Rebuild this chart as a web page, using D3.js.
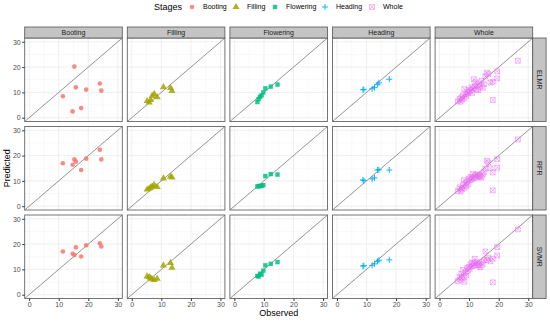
<!DOCTYPE html>
<html>
<head>
<meta charset="utf-8">
<script src="https://cdn.jsdelivr.net/npm/d3@7"></script>
<style>
  body { margin: 0; background: #fff; }
  svg { display: block; font-family: "Liberation Sans", Arial, sans-serif; }
</style>
</head>
<body>
<svg id="chart"></svg>
<script>
// Facet labels
const stages = ["Booting", "Filling", "Flowering", "Heading", "Whole"];
const models = ["ELMR", "RFR", "SVMR"];
const ticks = [0, 10, 20, 30];

// Observed values per stage
const bootingObs = [11.4, 14.7, 15.3, 15.8, 17.6, 19.3, 23.9, 24.4];
const fillingObs = [5.2, 5.9, 6.4, 6.9, 7.6, 8.6, 10.7, 13.1, 13.6];
const floweringObs = [7.8, 8.2, 8.7, 9.2, 9.8, 10.5, 12.3, 14.6];
const headingObs = [8.8, 9.1, 11.9, 12.7, 13.7, 14.2, 17.7];
const wholeObs = [6.2, 6.8, 7.1, 7.4, 7.6, 7.9, 8.2, 8.4, 8.8, 9.0, 9.3, 9.6, 9.9,
  10.2, 10.5, 10.8, 11.0, 11.3, 11.6, 11.9, 12.2, 12.5, 12.8, 13.1, 13.4, 13.8,
  14.2, 14.6, 15.0, 15.5, 16.0, 16.5, 17.2, 18.0, 18.0, 19.5, 19.5, 26.5];

// Predicted values, one array per stage and model
const bootingELMR = [8.5, 2.5, 20.2, 12.0, 3.8, 11.1, 13.5, 10.7];
const bootingRFR = [17.0, 16.4, 18.5, 17.6, 14.3, 18.8, 22.3, 18.5];
const bootingSVMR = [17.1, 16.2, 15.7, 18.7, 15.1, 19.5, 20.3, 19.1];

const fillingELMR = [6.6, 6.0, 7.0, 8.6, 9.4, 8.1, 12.1, 11.8, 10.6];
const fillingRFR = [6.6, 7.0, 7.3, 7.8, 8.4, 7.6, 11.0, 11.8, 11.4];
const fillingSVMR = [7.2, 7.0, 6.6, 6.1, 5.8, 6.3, 11.6, 12.6, 10.7];

const floweringELMR = [6.2, 7.4, 8.3, 8.8, 10.0, 11.6, 12.3, 13.1];
const floweringRFR = [7.8, 8.0, 7.9, 8.1, 8.3, 11.9, 12.7, 12.5];
const floweringSVMR = [7.4, 7.2, 8.3, 7.9, 9.5, 11.6, 12.2, 12.9];

const headingELMR = [11.0, 11.2, 11.4, 11.9, 13.2, 13.8, 15.2];
const headingRFR = [10.4, 10.1, 10.8, 11.2, 14.3, 14.4, 14.3];
const headingSVMR = [11.3, 11.5, 11.6, 12.2, 13.2, 13.6, 13.8];

const wholeELMR = [6.5, 7.4, 6.3, 8.0, 7.1, 8.8, 7.6, 11.3, 9.2, 8.4, 10.1, 9.6, 11.0,
  10.4, 10.8, 12.0, 9.8, 11.6, 15.2, 12.4, 14.0, 11.2, 12.8, 10.9, 13.5, 12.2,
  14.5, 11.8, 13.2, 16.3, 17.8, 17.2, 13.9, 14.2, 7.0, 18.3, 15.5, 22.5];
const wholeRFR = [6.0, 7.4, 5.8, 7.0, 6.6, 8.2, 10.3, 7.3, 9.0, 7.9, 9.6, 8.6, 10.9,
  10.2, 11.6, 10.6, 11.2, 12.8, 10.9, 11.8, 12.4, 11.4, 12.6, 11.9, 11.5, 12.0,
  11.3, 12.5, 13.4, 14.8, 18.0, 17.3, 15.0, 13.3, 6.3, 18.6, 15.2, 26.4];
const wholeSVMR = [5.4, 7.0, 5.9, 8.3, 6.6, 9.8, 7.3, 5.1, 8.7, 7.6, 10.5, 9.4, 11.0,
  10.2, 12.0, 11.2, 12.7, 11.4, 12.4, 14.2, 11.8, 12.9, 11.6, 12.3, 11.5, 10.9,
  12.8, 11.9, 13.6, 17.1, 13.8, 14.6, 13.2, 14.2, 4.9, 18.8, 15.5, 25.8];

const observed = { Booting: bootingObs, Filling: fillingObs, Flowering: floweringObs, Heading: headingObs, Whole: wholeObs };
const predicted = {
  Booting: { ELMR: bootingELMR, RFR: bootingRFR, SVMR: bootingSVMR },
  Filling: { ELMR: fillingELMR, RFR: fillingRFR, SVMR: fillingSVMR },
  Flowering: { ELMR: floweringELMR, RFR: floweringRFR, SVMR: floweringSVMR },
  Heading: { ELMR: headingELMR, RFR: headingRFR, SVMR: headingSVMR },
  Whole: { ELMR: wholeELMR, RFR: wholeRFR, SVMR: wholeSVMR }
};

const color = d3.scaleOrdinal().domain(stages)
  .range(["#F8766D", "#A3A500", "#00BF7D", "#00B0F6", "#E76BF3"]);

// Layout
const width = 550, height = 321;
const svg = d3.select("#chart").attr("width", width).attr("height", height);

const panelW = 97.6, panelH = 83.5;
const colStep = 102.6, rowStep = 88.5;
const left0 = 24.7, top0 = 38;
const stripH = 11;

const x = d3.scaleLinear().domain([-1.5, 31.5]).range([0, panelW]);
const y = d3.scaleLinear().domain([-1.5, 31.5]).range([panelH, 0]);
const minor = [5, 15, 25];

// Point shapes like ggplot 16, 17, 15, 3, 7
function drawPoint(sel, stage) {
  const c = color(stage);
  if (stage === "Booting") {
    sel.append("circle").attr("r", 2.3).attr("fill", c).attr("opacity", 0.85);
  } else if (stage === "Filling") {
    sel.append("path").attr("d", d3.symbol(d3.symbolTriangle, 22)()).attr("fill", c).attr("opacity", 0.85);
  } else if (stage === "Flowering") {
    sel.append("rect").attr("x", -2.2).attr("y", -2.2).attr("width", 4.4).attr("height", 4.4)
      .attr("fill", c).attr("opacity", 0.85);
  } else if (stage === "Heading") {
    sel.append("path").attr("d", "M-3,0H3M0,-3V3").attr("stroke", c).attr("stroke-width", 0.9).attr("fill", "none");
  } else {
    sel.append("path").attr("d", "M-2.4,-2.4H2.4V2.4H-2.4ZM-2.4,-2.4L2.4,2.4M2.4,-2.4L-2.4,2.4")
      .attr("stroke", c).attr("stroke-width", 0.6).attr("fill", "none").attr("opacity", 0.8);
  }
}

models.forEach((m, r) => {
  stages.forEach((s, c) => {
    const g = svg.append("g")
      .attr("transform", `translate(${left0 + c * colStep},${top0 + r * rowStep})`);

    g.append("rect").attr("width", panelW).attr("height", panelH).attr("fill", "#fff");

    // grid
    g.selectAll(".minx").data(minor).join("line")
      .attr("x1", d => x(d)).attr("x2", d => x(d)).attr("y1", 0).attr("y2", panelH)
      .attr("stroke", "#F2F2F2").attr("stroke-width", 0.5);
    g.selectAll(".miny").data(minor).join("line")
      .attr("y1", d => y(d)).attr("y2", d => y(d)).attr("x1", 0).attr("x2", panelW)
      .attr("stroke", "#F2F2F2").attr("stroke-width", 0.5);
    g.append("g").selectAll("line").data(ticks).join("line")
      .attr("x1", d => x(d)).attr("x2", d => x(d)).attr("y1", 0).attr("y2", panelH)
      .attr("stroke", "#EBEBEB").attr("stroke-width", 0.8);
    g.append("g").selectAll("line").data(ticks).join("line")
      .attr("y1", d => y(d)).attr("y2", d => y(d)).attr("x1", 0).attr("x2", panelW)
      .attr("stroke", "#EBEBEB").attr("stroke-width", 0.8);

    // 1:1 line
    g.append("line")
      .attr("x1", x(-1.5)).attr("y1", y(-1.5)).attr("x2", x(31.5)).attr("y2", y(31.5))
      .attr("stroke", "#888").attr("stroke-width", 0.9);

    // points
    const obs = observed[s], pred = predicted[s][m];
    const pts = obs.map((o, i) => ({ o, p: pred[i] }));
    g.append("g").selectAll("g").data(pts).join("g")
      .attr("transform", d => `translate(${x(d.o)},${y(d.p)})`)
      .each(function () { drawPoint(d3.select(this), s); });

    g.append("rect").attr("width", panelW).attr("height", panelH)
      .attr("fill", "none").attr("stroke", "#666").attr("stroke-width", 0.9);

    // top strips
    if (r === 0) {
      g.append("rect").attr("y", -stripH).attr("width", panelW).attr("height", stripH)
        .attr("fill", "#C4C4C4").attr("stroke", "#555").attr("stroke-width", 0.8);
      g.append("text").attr("x", panelW / 2).attr("y", -stripH / 2).attr("dy", "0.35em")
        .attr("text-anchor", "middle").attr("font-size", 7).attr("fill", "#1A1A1A").text(s);
    }
    // right strips
    if (c === stages.length - 1) {
      g.append("rect").attr("x", panelW).attr("width", 13.4).attr("height", panelH)
        .attr("fill", "#C4C4C4").attr("stroke", "#555").attr("stroke-width", 0.8);
      g.append("text")
        .attr("transform", `translate(${panelW + 6.7},${panelH / 2}) rotate(90)`)
        .attr("dy", "0.35em").attr("text-anchor", "middle").attr("font-size", 7)
        .attr("fill", "#1A1A1A").text(m);
    }
    // y axis
    if (c === 0) {
      const ay = g.append("g").call(d3.axisLeft(y).tickValues(ticks).tickSize(2.5).tickPadding(1.5));
      ay.select(".domain").remove();
      ay.selectAll("line").attr("stroke", "#333");
      ay.selectAll("text").attr("font-size", 7).attr("fill", "#4D4D4D").attr("font-family", null);
    }
    // x axis
    if (r === models.length - 1) {
      const ax = g.append("g").attr("transform", `translate(0,${panelH})`)
        .call(d3.axisBottom(x).tickValues(ticks).tickSize(2.5).tickPadding(1.5));
      ax.select(".domain").remove();
      ax.selectAll("line").attr("stroke", "#333");
      ax.selectAll("text").attr("font-size", 7).attr("fill", "#4D4D4D").attr("font-family", null);
    }
  });
});

// Axis titles
const gridCx = left0 + (colStep * 4 + panelW) / 2;
svg.append("text").attr("x", gridCx).attr("y", 316).attr("text-anchor", "middle")
  .attr("font-size", 9).attr("fill", "#000").text("Observed");
svg.append("text").attr("transform", `translate(10,${top0 + (rowStep * 2 + panelH) / 2}) rotate(-90)`)
  .attr("text-anchor", "middle").attr("font-size", 9).attr("fill", "#000").text("Predicted");

// Legend
const legend = svg.append("g").attr("transform", "translate(154,7)");
legend.append("text").attr("x", 0).attr("dy", "0.35em").attr("font-size", 9).attr("fill", "#000").text("Stages");
const legX = [38, 82, 121, 171, 218];
stages.forEach((s, i) => {
  const item = legend.append("g").attr("transform", `translate(${legX[i]},0)`);
  drawPoint(item.append("g"), s);
  item.append("text").attr("x", 11).attr("dy", "0.35em").attr("font-size", 7).attr("fill", "#000").text(s);
});
</script>
</body>
</html>
